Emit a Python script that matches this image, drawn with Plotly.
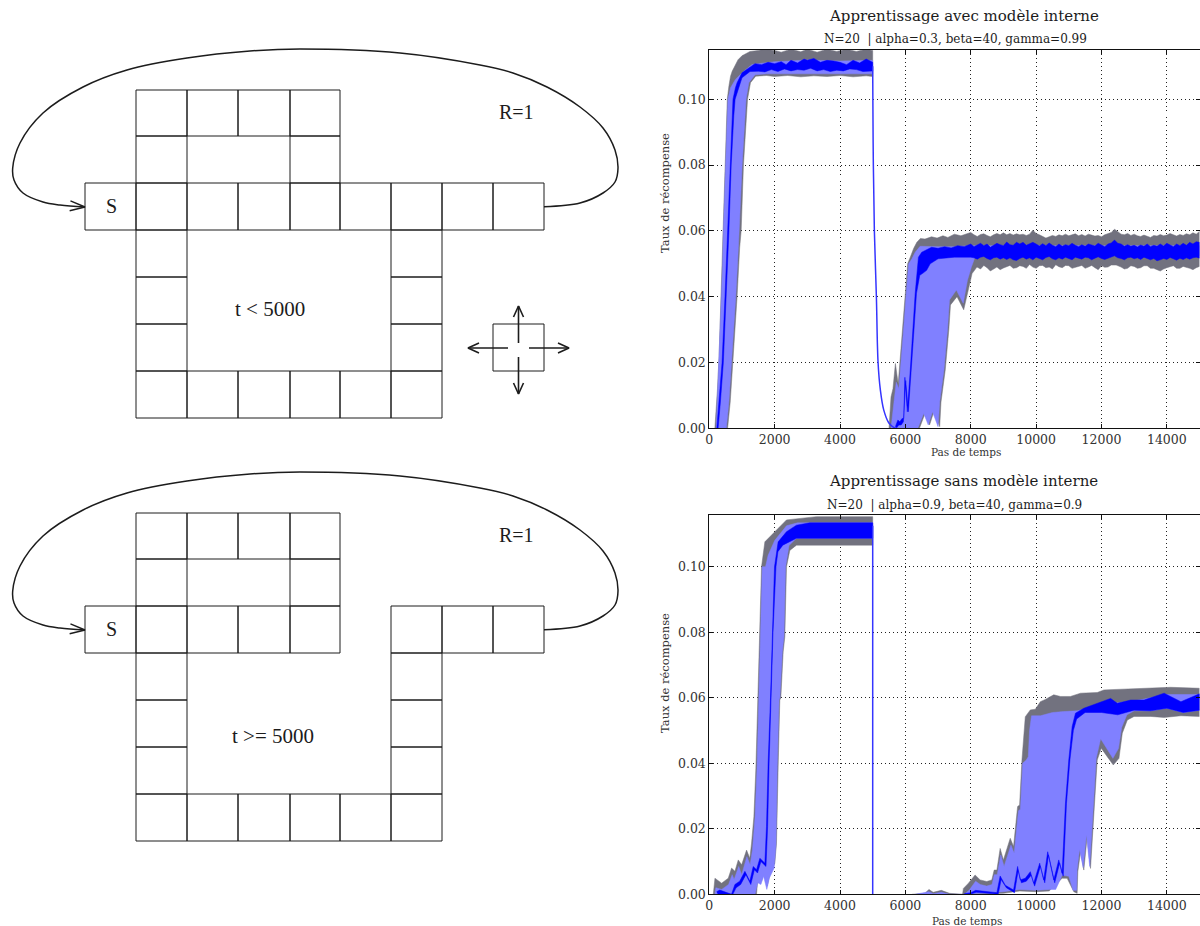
import plotly.graph_objects as go

# ---------- chart data: (time step, reward rate) ----------
# Top chart, before the change (t < 5000)
A1_GRAY_TOP = [(170,0),(200,.004),(250,.012),(300,.022),(340,.034),(380,.048),(410,.06),(450,.072),(480,.08),(520,.092),(550,.1),(600,.104),(650,.107),(700,.1085),(800,.1105),(880,.112),(1000,.1132),(1245,.1145),(1500,.1148),(1700,.1152),(2000,.1148),(2200,.1143),(2500,.1152),(2800,.1144),(3000,.1152),(3300,.1143),(3600,.1152),(3900,.1145),(4200,.1152),(4500,.1145),(4800,.1152),(5000,.1148)]
A1_BAND_TOP = [(210,0),(260,.012),(310,.022),(350,.034),(400,.048),(430,.06),(500,.08),(570,.1),(650,.1035),(800,.106),(1000,.108),(1300,.1105),(1500,.1108),(2000,.1114),(3000,.1119),(4000,.1116),(5000,.1118)]
A1_MEAN_TOP = [(230,0),(300,.008),(390,.02),(480,.04),(560,.06),(630,.08),(700,.095),(725,.1),(800,.1035),(850,.105),(1000,.108),(1200,.1095),(1400,.1108),(1600,.1105),(1800,.1112),(2000,.1108),(2200,.1114),(2350,.1105),(2500,.1118),(2700,.1110),(2900,.1122),(3000,.1118),(3200,.1124),(3400,.1112),(3600,.1118),(3800,.1116),(4000,.1112),(4200,.1105),(4400,.1118),(4600,.1110),(4800,.1122),(5000,.1112)]
A1_MEAN_BOT = [(270,0),(340,.008),(430,.02),(520,.04),(600,.06),(670,.08),(750,.095),(790,.1),(900,.1035),(1000,.1065),(1245,.1084),(1500,.1085),(1700,.1083),(1900,.1090),(2100,.1084),(2300,.1092),(2500,.1086),(2700,.1090),(2900,.1088),(3100,.1094),(3300,.1086),(3500,.1090),(3700,.1084),(3900,.1088),(4100,.1086),(4300,.1092),(4500,.1090),(4700,.1084),(5000,.1086)]
A1_BAND_BOT = [(520,0),(600,.008),(660,.016),(720,.025),(810,.04),(890,.055),(930,.06),(1005,.08),(1125,.10),(1210,.105),(1400,.1074),(1750,.1077),(5000,.1077)]
A1_GRAY_BOT = [(560,0),(640,.008),(700,.016),(760,.025),(850,.04),(930,.055),(975,.06),(1045,.08),(1170,.10),(1260,.105),(1420,.107),(1750,.1072),(2000,.1069),(2400,.1072),(2800,.1068),(3200,.1071),(3600,.1069),(4000,.1072),(4400,.1068),(4800,.1071),(5000,.1069)]

# Top chart, after the change
A2_GRAY_TOP = [(5500,0),(5530,.004),(5560,.0095),(5620,.012),(5694,.0197),(5780,.0135),(5850,.022),(5930,.032),(6000,.0415),(6040,.047),(6070,.05),(6150,.052),(6255,.0547),(6350,.0565),(6460,.0577),(6600,.0575),(6800,.0582),(6970,.0578),(7150,.0585),(7300,.058),(7500,.059),(7700,.0585),(7900,.0592),(8000,.0595),(8100,.0588),(8200,.0583),(8300,.0589),(8400,.0591),(8500,.0586),(8600,.0582),(8700,.0588),(8800,.0592),(8900,.0588),(9000,.0594),(9100,.0588),(9200,.0592),(9300,.0587),(9400,.0591),(9500,.0588),(9600,.059),(9700,.0586),(9800,.059),(9900,.0602),(10000,.0592),(10100,.0588),(10200,.0584),(10300,.0578),(10400,.0582),(10500,.0586),(10600,.0583),(10700,.0588),(10800,.0585),(10900,.059),(11000,.0585),(11100,.0588),(11200,.0591),(11300,.0585),(11400,.0589),(11500,.0584),(11600,.059),(11700,.0587),(11800,.0584),(11900,.0586),(12000,.0582),(12100,.0588),(12200,.0592),(12300,.0595),(12400,.0605),(12500,.0598),(12600,.059),(12700,.0588),(12800,.0592),(12900,.0586),(13000,.059),(13100,.0585),(13200,.0583),(13300,.0587),(13400,.0583),(13500,.058),(13600,.0586),(13700,.0584),(13800,.0589),(13900,.0585),(14000,.0587),(14100,.0592),(14200,.0588),(14300,.0584),(14400,.0589),(14500,.0586),(14600,.0591),(14700,.0588),(14800,.0594),(14900,.059),(15000,.0598)]
A2_BAND_TOP = [(5560,0),(5640,.008),(5720,.014),(5800,.012),(5870,.02),(5960,.032),(6030,.0415),(6100,.05),(6200,.0515),(6300,.0535),(6450,.0553),(6700,.0552),(7000,.0552),(7500,.0552),(8000,.0555),(15000,.0555)]
A2_MEAN_TOP = [(5694,.0005),(5770,.0025),(5830,.002),(5900,.003),(5950,.003),(5985,.0155),(6060,.005),(6100,.012),(6150,.0177),(6300,.041),(6400,.052),(6500,.0535),(6800,.055),(7000,.0547),(7200,.0552),(7400,.0548),(7600,.0555),(7800,.0552),(8000,.056),(8100,.0552),(8200,.0558),(8300,.0562),(8400,.0555),(8500,.056),(8600,.055),(8700,.0556),(8800,.0562),(8900,.0558),(9000,.0555),(9100,.0566),(9200,.0558),(9300,.0556),(9400,.0565),(9500,.056),(9600,.0565),(9700,.0556),(9800,.056),(9900,.0565),(10000,.056),(10100,.0554),(10200,.0561),(10300,.0555),(10400,.0563),(10500,.0556),(10600,.0552),(10700,.056),(10800,.0553),(10900,.0558),(11000,.0555),(11100,.0562),(11200,.0556),(11300,.0552),(11400,.0558),(11500,.0553),(11600,.056),(11700,.0556),(11800,.0554),(11900,.0562),(12000,.0556),(12100,.0552),(12200,.056),(12300,.0563),(12400,.0572),(12500,.0562),(12600,.056),(12700,.0553),(12800,.0558),(12900,.0553),(13000,.0556),(13100,.0551),(13200,.0557),(13300,.0553),(13400,.056),(13500,.0552),(13600,.0556),(13700,.0553),(13800,.056),(13900,.0554),(14000,.0562),(14100,.0556),(14200,.0552),(14300,.056),(14400,.0555),(14500,.0562),(14600,.0556),(14700,.0565),(14800,.056),(14900,.0567),(15000,.0565)]
A2_MEAN_BOT = [(5720,0),(5800,.001),(5870,.001),(5940,.002),(6010,.0145),(6090,.005),(6180,.0177),(6340,.041),(6440,.0465),(6520,.047),(6650,.048),(6760,.05),(7000,.0515),(7500,.052),(8000,.052),(8100,.0518),(8200,.0514),(8300,.052),(8400,.0522),(8500,.0516),(8600,.0512),(8700,.0518),(8800,.052),(8900,.0514),(9000,.0518),(9100,.0513),(9200,.0518),(9300,.0512),(9400,.051),(9500,.0516),(9600,.052),(9700,.0514),(9800,.0518),(9900,.0512),(10000,.052),(10100,.0516),(10200,.0512),(10300,.0519),(10400,.0522),(10500,.0515),(10600,.0512),(10700,.0518),(10800,.0514),(10900,.052),(11000,.0516),(11100,.0512),(11200,.052),(11300,.0516),(11400,.0514),(11500,.052),(11600,.0518),(11700,.0512),(11800,.0517),(11900,.0521),(12000,.0516),(12100,.0513),(12200,.0518),(12300,.052),(12400,.0524),(12500,.0518),(12600,.0516),(12700,.0512),(12800,.0518),(12900,.052),(13000,.0515),(13100,.0518),(13200,.0513),(13300,.052),(13400,.0516),(13500,.0512),(13600,.0516),(13700,.0509),(13800,.0512),(13900,.0516),(14000,.0513),(14100,.0519),(14200,.0515),(14300,.0511),(14400,.0517),(14500,.0513),(14600,.0518),(14700,.0514),(14800,.0518),(14900,.052),(15000,.0517)]
A2_BAND_BOT = [(6380,0),(6480,.0025),(6560,.0045),(6700,.001),(6830,.005),(7000,.0005),(7050,.008),(7180,.0177),(7290,.03),(7350,.039),(7560,.042),(7770,.038),(7900,.045),(8020,.049),(8150,.0525),(15000,.0525)]
A2_GRAY_BOT = [(6430,0),(6520,.0025),(6600,.0045),(6740,.001),(6870,.005),(7050,.0005),(7090,.008),(7220,.0177),(7330,.03),(7380,.0375),(7580,.04),(7785,.036),(7940,.043),(8040,.047),(8190,.049),(8300,.0484),(8400,.0495),(8500,.0488),(8600,.0478),(8700,.0484),(8800,.049),(8900,.0482),(9000,.0487),(9100,.0492),(9200,.0495),(9300,.0486),(9400,.0488),(9500,.0494),(9600,.0492),(9700,.0486),(9800,.0498),(9900,.049),(10000,.0486),(10100,.0494),(10200,.0495),(10300,.0488),(10400,.049),(10500,.0484),(10600,.0497),(10700,.0491),(10800,.0488),(10900,.0495),(11000,.0494),(11100,.0486),(11200,.0487),(11300,.0492),(11400,.0495),(11500,.0486),(11600,.049),(11700,.0495),(11800,.0488),(11900,.0482),(12000,.0494),(12100,.0489),(12200,.049),(12300,.0496),(12450,.0496),(12600,.049),(12700,.0484),(12800,.0486),(12900,.0494),(13000,.0492),(13100,.0486),(13200,.0488),(13300,.0494),(13400,.0494),(13500,.0486),(13600,.0486),(13700,.0482),(13800,.0478),(13900,.0484),(14000,.0488),(14100,.0492),(14200,.0494),(14300,.0486),(14400,.0486),(14500,.0492),(14600,.049),(14700,.0486),(14800,.0482),(14900,.0488),(15000,.0492)]
A_DROP = [(5000,.11),(5005,.10),(5020,.08),(5051,.06),(5113,.04),(5164,.02),(5235,.0116),(5337,.0056),(5490,.0017),(5643,.0003),(5750,0)]

# Bottom chart, before the change
B1_GRAY_TOP = [(122,0),(173,.0049),(377,.0034),(580,.0049),(682,.008),(784,.007),(886,.0105),(990,.009),(1140,.0135),(1240,.011),(1293,.0156),(1364,.0237),(1425,.0385),(1476,.0593),(1496,.06),(1547,.08),(1598,.1),(1700,.1076),(2005,.1107),(2362,.1143),(3278,.1153),(5000,.1153)]
B1_BAND_TOP = [(170,0),(200,.002),(380,.0015),(590,.003),(700,.006),(760,.0045),(900,.0085),(990,.006),(1150,.0115),(1250,.009),(1320,.0135),(1400,.0235),(1460,.0385),(1510,.06),(1560,.08),(1620,.1),(1720,.1),(1800,.1035),(2000,.108),(2362,.1125),(2700,.1134),(5000,.1134)]
B1_MEAN_TOP = [(224,.0008),(320,.0013),(680,0),(784,.003),(930,.004),(1090,.007),(1240,.004),(1344,.0085),(1446,.0075),(1547,.011),(1700,.0095),(1750,.0207),(1800,.04),(1853,.0593),(1873,.06),(1934,.08),(1995,.1),(2107,.1076),(2362,.1107),(2667,.1127),(3074,.1134),(5000,.1134)]
B1_MEAN_BOT = [(260,0),(720,0),(820,.002),(960,.003),(1120,.006),(1270,.003),(1380,.0075),(1476,.0065),(1580,.01),(1735,.0085),(1785,.0207),(1830,.04),(1885,.06),(1950,.08),(2040,.1),(2100,.1046),(2250,.1066),(2400,.1075),(2667,.1087),(5000,.1087)]
B1_BAND_BOT = [(1400,0),(1480,.0035),(1580,.003),(1660,.0055),(1760,.0015),(1840,.005),(1985,.008),(2040,.015),(2080,.039),(2135,.0593),(2160,.06),(2235,.074),(2285,.0786),(2335,.1),(2440,.1065),(2667,.1087),(5000,.1087)]
B1_GRAY_BOT = [(1445,0),(1496,.006),(1598,.004),(1690,.007),(1771,.0025),(1853,.006),(2005,.0095),(2056,.0156),(2107,.039),(2158,.0593),(2189,.06),(2260,.074),(2311,.0786),(2362,.1),(2464,.105),(2667,.1066),(5000,.1066)]
B_DROP = [(5000,.1125),(5000,0)]

# Bottom chart, after the change
B2_GRAY_TOP = [(6200,0),(6600,.0003),(6720,.0015),(6850,.0006),(7100,.0012),(7350,.0003),(7750,0),(7775,.0018),(7930,.0034),(8133,.0059),(8287,.0044),(8490,.0039),(8645,.0044),(8717,.0074),(8800,.0074),(8900,.014),(9000,.0105),(9208,.0171),(9310,.0146),(9434,.0268),(9495,.0273),(9567,.041),(9669,.0542),(9823,.0563),(9976,.0565),(10130,.0588),(10283,.0595),(10540,.0609),(10745,.0604),(11050,.0604),(11360,.0614),(11870,.0616),(12075,.0624),(13100,.0629),(14120,.0632),(15000,.0629)]
B2_BAND_TOP = [(6300,0),(6720,.0008),(6850,.0002),(7100,.0006),(7350,0),(7800,0),(7950,.0012),(8150,.004),(8290,.003),(8490,.0025),(8650,.003),(8720,.006),(8810,.006),(8920,.012),(9020,.0085),(9230,.015),(9330,.0125),(9460,.0255),(9520,.026),(9590,.04),(9700,.041),(9760,.042),(9800,.05),(9860,.0545),(10130,.0545),(10500,.0555),(10847,.0558),(11256,.056),(12075,.058),(13000,.059),(14000,.061),(15000,.061)]
B2_MEAN_TOP = [(7800,.0002),(8000,.0005),(8150,.0012),(8500,.0008),(8800,.0005),(8900,.0056),(9055,.0028),(9310,.0013),(9434,.0085),(9515,.0044),(9669,.0049),(9823,.0069),(9925,.0034),(10110,.0095),(10232,.0044),(10355,.013),(10540,.0044),(10693,.0105),(10796,.0064),(10898,.0278),(11000,.041),(11103,.0512),(11205,.0553),(11460,.0568),(11870,.0583),(12280,.0598),(12485,.0583),(12894,.0593),(13304,.0593),(13918,.0614),(14431,.0588),(15000,.0612)]
B2_MEAN_BOT = [(7830,0),(8000,.0001),(8170,.0006),(8500,.0003),(8840,0),(8930,.0045),(9090,.002),(9340,.0005),(9450,.0072),(9550,.0035),(9700,.004),(9850,.0058),(9955,.0025),(10130,.0085),(10265,.0035),(10380,.012),(10570,.0035),(10720,.0095),(10830,.0055),(10930,.0278),(11035,.041),(11140,.05),(11240,.0535),(11500,.0555),(12000,.0555),(12500,.0548),(13000,.0562),(13500,.056),(14000,.0568),(14500,.0555),(15000,.0562)]
B2_BAND_BOT = [(7800,0),(9000,.0008),(9500,.0015),(10000,.0012),(10400,.0015),(10600,.0015),(10800,.0058),(11000,.0055),(11130,.0012),(11240,.0012),(11255,.0075),(11330,.0137),(11440,.0082),(11540,.0182),(11640,.0085),(11740,.0262),(11840,.0415),(11975,.0475),(12150,.0445),(12350,.0415),(12520,.0445),(12620,.051),(12780,.0548),(13000,.056),(13500,.056),(14000,.0568),(14500,.0555),(15000,.0562)]
B2_GRAY_BOT = [(7750,0),(9000,.0003),(9500,.001),(10000,.0008),(10400,.001),(10796,.0049),(10950,.0049),(11154,.0008),(11256,.0003),(11277,.0069),(11360,.013),(11460,.0074),(11563,.0176),(11665,.0079),(11767,.0258),(11870,.041),(11993,.0446),(12178,.042),(12362,.0395),(12536,.0415),(12638,.0492),(12792,.0532),(12997,.0543),(13510,.0543),(13918,.054),(14431,.0545),(15000,.0543)]

XTICKS = [0, 2000, 4000, 6000, 8000, 10000, 12000, 14000]
XTICK_LABELS = ["0", "2000", "4000", "6000", "8000", "10000", "12000", "14000"]
YTICKS = [0.0, 0.02, 0.04, 0.06, 0.08, 0.10]
YTICK_LABELS = ["0.00", "0.02", "0.04", "0.06", "0.08", "0.10"]

TITLE_TOP = "Apprentissage avec modèle interne"
SUB_TOP = "N=20  | alpha=0.3, beta=40, gamma=0.99"
TITLE_BOT = "Apprentissage sans modèle interne"
SUB_BOT = "N=20  | alpha=0.9, beta=40, gamma=0.9"
XLABEL = "Pas de temps"
YLABEL = "Taux de récompense"

# ---------- maze diagrams: grid cells as (column, row) ----------
COL_EDGES = [85, 136, 187, 238, 290, 340, 391, 442, 493, 544]
ROW_EDGES = [90, 136, 183, 230, 277, 324, 371, 418]
TOP_ROW_CELLS = [(1,0),(2,0),(3,0),(4,0),(1,1),(4,1)]
SIDE_CELLS = [(1,3),(6,3),(1,4),(6,4),(1,5),(6,5)]
BOTTOM_ROW_CELLS = [(1,6),(2,6),(3,6),(4,6),(5,6),(6,6)]
MAZE_BEFORE = TOP_ROW_CELLS + [(c,2) for c in range(0,9)] + SIDE_CELLS + BOTTOM_ROW_CELLS
MAZE_AFTER = TOP_ROW_CELLS + [(c,2) for c in (0,1,2,3,4,6,7,8)] + SIDE_CELLS + BOTTOM_ROW_CELLS
MAZE_OFFSET = 423

LOOP_RIGHT = [(544,206.7),(580,203),(603,193),(615,182),(618,168),(615,150),(603,128),(580,107),(547,87),(513,73),(480,65),(400,53),(300,49)]
LOOP_LEFT = [(250,51),(187,58),(127,70),(83,87),(43,113),(20,143),(12.7,168),(14,180),(23,193),(43,202),(60,205),(85,207)]

ACTION_BOX = [(493,324),(544,324),(544,371),(493,371),(493,324)]
ACTION_ARROWS = [((518.5,343),(518.5,306)), ((508,348),(468,348)), ((529,348),(569,348)), ((518.5,357),(518.5,394))]

INK = "#1c1c1c"
GRAY = "#72727f"
LIGHT = "#8080ff"
BLUE = "#0000ff"
DROP_BLUE = "#3535ff"
SERIF = "DejaVu Serif"
fig = go.Figure()


def add_poly(top, bottom, color, xa, ya):
    pts = top + bottom[::-1]
    fig.add_trace(go.Scatter(x=[p[0] for p in pts], y=[p[1] for p in pts], mode="lines", fill="toself",
                             fillcolor=color, line=dict(color=color, width=0.5), hoverinfo="skip",
                             showlegend=False, xaxis=xa, yaxis=ya))


def add_line(pts, color, width, xa, ya, shape="linear"):
    fig.add_trace(go.Scatter(x=[p[0] for p in pts], y=[p[1] for p in pts], mode="lines",
                             line=dict(color=color, width=width, shape=shape), hoverinfo="skip",
                             showlegend=False, xaxis=xa, yaxis=ya))


def arrow_head(tip, tail, back=11, half=5):
    dx, dy = tip[0]-tail[0], tip[1]-tail[1]
    n = (dx*dx+dy*dy)**0.5
    ux, uy = dx/n, dy/n
    return [(tip[0]-ux*back-uy*half, tip[1]-uy*back+ux*half), tip,
            (tip[0]-ux*back+uy*half, tip[1]-uy*back-ux*half)]


def draw_maze(cells, off):
    xs, ys = [], []
    for c, r in cells:
        l, rr = COL_EDGES[c], COL_EDGES[c+1]
        t, b = ROW_EDGES[r]+off, ROW_EDGES[r+1]+off
        xs += [l, rr, rr, l, l, None]
        ys += [t, t, b, b, t, None]
    fig.add_trace(go.Scatter(x=xs, y=ys, mode="lines", line=dict(color=INK, width=1), hoverinfo="skip",
                             showlegend=False, xaxis="x3", yaxis="y3"))
    loop = LOOP_RIGHT + LOOP_LEFT
    add_line([(x, y+off) for x, y in loop], INK, 1.5, "x3", "y3", "spline")
    tip = (85, 207+off)
    add_line(arrow_head(tip, (60, 205+off), 15, 5), INK, 1.4, "x3", "y3")


draw_maze(MAZE_BEFORE, 0)
draw_maze(MAZE_AFTER, MAZE_OFFSET)
add_line(ACTION_BOX, INK, 1, "x3", "y3")
for a, b in ACTION_ARROWS:
    add_line([a, b], INK, 1.6, "x3", "y3")
    add_line(arrow_head(b, a), INK, 1.6, "x3", "y3")

for xa, ya, phases, drop, dshape in [
    ("x", "y", [(A1_GRAY_TOP, A1_BAND_TOP, A1_MEAN_TOP, A1_MEAN_BOT, A1_BAND_BOT, A1_GRAY_BOT),
                (A2_GRAY_TOP, A2_BAND_TOP, A2_MEAN_TOP, A2_MEAN_BOT, A2_BAND_BOT, A2_GRAY_BOT)], A_DROP, "spline"),
    ("x2", "y2", [(B1_GRAY_TOP, B1_BAND_TOP, B1_MEAN_TOP, B1_MEAN_BOT, B1_BAND_BOT, B1_GRAY_BOT),
                  (B2_GRAY_TOP, B2_BAND_TOP, B2_MEAN_TOP, B2_MEAN_BOT, B2_BAND_BOT, B2_GRAY_BOT)], B_DROP, "linear"),
]:
    for gt, bt, mt, mb, bb, gb in phases:
        add_poly(gt, gb, GRAY, xa, ya)
        add_poly(bt, bb, LIGHT, xa, ya)
        add_poly(mt, mb, BLUE, xa, ya)
    add_line(drop, DROP_BLUE, 1.5, xa, ya, dshape)


def axis_style():
    return dict(showline=True, linecolor="#111111", linewidth=1, mirror="allticks", ticks="inside", ticklen=4,
                tickcolor="#111111", showgrid=True, gridcolor="#222222", griddash="1px,3px", gridwidth=1,
                zeroline=False, tickfont=dict(family=SERIF, size=12.5, color="#333333"), automargin=False)


W, H = 1200, 926
XL, XR = 709.3, 1199.5
fig.update_layout(
    width=W, height=H, margin=dict(l=0, r=0, t=0, b=0), paper_bgcolor="white", plot_bgcolor="rgba(0,0,0,0)",
    showlegend=False,
    xaxis=dict(domain=[XL/W, XR/W], range=[0, 15000], tickvals=XTICKS, ticktext=XTICK_LABELS, anchor="y", **axis_style()),
    yaxis=dict(domain=[(H-428.3)/H, (H-49.5)/H], range=[0, 0.1151], tickvals=YTICKS, ticktext=YTICK_LABELS, anchor="x", **axis_style()),
    xaxis2=dict(domain=[XL/W, XR/W], range=[0, 15000], tickvals=XTICKS, ticktext=XTICK_LABELS, anchor="y2", **axis_style()),
    yaxis2=dict(domain=[(H-894.3)/H, (H-515)/H], range=[0, 0.1158], tickvals=YTICKS, ticktext=YTICK_LABELS, anchor="x2", **axis_style()),
    xaxis3=dict(domain=[0, 1], range=[0, W], visible=False, anchor="y3"),
    yaxis3=dict(domain=[0, 1], range=[H, 0], visible=False, anchor="x3"),
)


def label(text, x, y, size, family, color=INK, angle=0):
    fig.add_annotation(text=text, x=x, y=y, xref="x3", yref="y3", showarrow=False, textangle=angle,
                       font=dict(family=family, size=size, color=color), xanchor="center", yanchor="middle")


label(TITLE_TOP, 964, 16, 15, SERIF)
label(SUB_TOP, 955, 39, 12, SERIF)
label(TITLE_BOT, 963, 481, 15, SERIF)
label(SUB_BOT, 954, 505, 12, SERIF)
label(XLABEL, 966, 452, 10.5, SERIF, "#333333")
label(XLABEL, 967, 921, 10.5, SERIF, "#333333")
label(YLABEL, 665, 193, 11.5, SERIF, "#333333", -90)
label(YLABEL, 665, 673, 11.5, SERIF, "#333333", -90)
label("S", 111, 206, 20, "Liberation Serif")
label("S", 111, 629, 20, "Liberation Serif")
label("R=1", 516, 112, 20, "Liberation Serif")
label("R=1", 516, 535, 20, "Liberation Serif")
label("t < 5000", 270, 309, 21, "Liberation Serif")
label("t >= 5000", 273, 736, 21, "Liberation Serif")

fig.write_html("out.html", config=dict(displayModeBar=False),
               post_script="document.body.style.margin='0';document.body.style.overflow='hidden';")
